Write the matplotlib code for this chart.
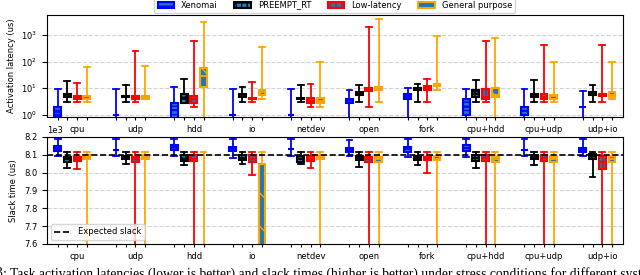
import matplotlib.pyplot as plt
from matplotlib.ticker import NullLocator

plt.rcParams['font.size'] = 6

# Stress scenarios and kernels
groups = ['cpu', 'udp', 'hdd', 'io', 'netdev', 'open', 'fork', 'cpu+hdd', 'cpu+udp', 'udp+io']
systems = ['Xenomai', 'PREEMPT_RT', 'Low-latency', 'General purpose']

# Activation latency (us): (whisker low, q1, median, q3, whisker high)
lat_xenomai = [(0.5, 0.92, 1.33, 1.94, 9.2), (0.5, 1.0, 1.0, 1.0, 9.2), (0.5, 0.7, 1.5, 2.9, 10.9),
               (0.5, 1.0, 1.0, 1.0, 9.2), (0.5, 1.0, 1.0, 1.0, 9.2), (0.5, 2.9, 3.65, 4.0, 8.2),
               (0.5, 4.0, 4.9, 6.0, 10.0), (0.5, 1.0, 2.05, 4.0, 9.2), (0.5, 1.0, 1.4, 1.94, 9.2),
               (0.5, 1.94, 1.94, 1.94, 7.9)]
lat_preempt = [(3.0, 4.6, 5.3, 6.0, 18.9), (3.0, 4.6, 5.0, 5.2, 13.3), (2.9, 2.9, 3.9, 6.1, 22.4),
               (3.0, 4.6, 5.3, 6.0, 11.5), (3.0, 3.9, 4.0, 4.2, 13.3), (3.0, 5.6, 6.5, 7.5, 13.3),
               (3.0, 8.7, 9.4, 10.0, 14.5), (3.0, 4.6, 6.1, 8.2, 20.5), (3.0, 4.6, 5.3, 6.1, 19.5),
               (3.0, 5.6, 6.5, 7.3, 13.3)]
lat_lowlat = [(3.0, 4.0, 4.5, 4.9, 16.3), (3.0, 4.0, 4.5, 4.9, 258), (1.9, 2.9, 3.9, 4.9, 612),
              (3.0, 3.9, 4.0, 4.2, 17.3), (1.9, 2.9, 3.35, 4.2, 14.5), (1.9, 7.9, 8.9, 10.0, 2048),
              (3.0, 8.7, 10.0, 11.9, 23), (3.0, 4.0, 4.7, 9.2, 594), (3.0, 4.0, 4.7, 6.0, 410),
              (3.0, 4.9, 5.5, 6.1, 410)]
lat_general = [(3.0, 3.9, 4.1, 4.9, 61), (3.9, 3.9, 4.3, 4.9, 68), (0.3, 10.9, 29, 58, 3162),
               (4.0, 5.6, 6.9, 8.2, 343), (1.9, 2.9, 3.4, 4.2, 100), (3.0, 8.7, 10.0, 10.9, 3981),
               (8.2, 11.9, 12.9, 14.0, 944), (0.3, 4.7, 5.8, 10.0, 747), (3.0, 4.0, 4.9, 5.8, 100),
               (3.9, 4.7, 5.8, 6.9, 100)]

# Slack time (us): (whisker low, q1, median, q3, whisker high)
slack_xenomai = [(8092, 8122, 8135, 8150, 8191), (8092, 8126, 8126, 8126, 8191), (8092, 8126, 8141, 8157, 8191),
                 (8083, 8122, 8133, 8144, 8191), (8092, 8131, 8131, 8131, 8191), (8092, 8116, 8128, 8139, 8185),
                 (8089, 8118, 8131, 8144, 8191), (8089, 8122, 8137, 8154, 8191), (8092, 8126, 8126, 8126, 8191),
                 (8092, 8118, 8129, 8139, 8191)]
slack_preempt = [(8027, 8061, 8074, 8089, 8118), (8046, 8079, 8085, 8092, 8118), (8042, 8066, 8079, 8096, 8118),
                 (8046, 8070, 8083, 8096, 8118), (8046, 8061, 8075, 8092, 8118), (8029, 8070, 8081, 8092, 8118),
                 (8042, 8070, 8081, 8092, 8118), (8027, 8066, 8081, 8096, 8118), (8042, 8074, 8085, 8100, 8118),
                 (7977, 8075, 8092, 8103, 8118)]
slack_lowlat = [(8023, 8066, 8077, 8089, 8118), (7000, 8061, 8074, 8089, 8118), (7000, 8066, 8079, 8096, 8118),
                (7986, 8061, 8077, 8096, 8118), (8027, 8066, 8079, 8092, 8118), (7000, 8061, 8074, 8089, 8118),
                (7996, 8070, 8079, 8089, 8118), (7000, 8066, 8081, 8100, 8118), (7000, 8066, 8081, 8096, 8118),
                (7000, 8023, 8061, 8092, 8118)]
slack_general = [(7000, 8079, 8088, 8100, 8118), (7000, 8077, 8085, 8096, 8118), (7000, 7300, 7400, 7500, 8118),
                 (7000, 7400, 7500, 8051, 8118), (7000, 8075, 8083, 8092, 8118), (7000, 8057, 8074, 8089, 8118),
                 (7000, 8070, 8079, 8092, 8118), (7000, 8057, 8074, 8089, 8118), (7000, 8057, 8074, 8089, 8118),
                 (7000, 8057, 8074, 8092, 8118)]

expected_slack = 8100

colors = ['blue', 'black', 'red', 'orange']
hatches = ['----', '+++', '|||', '\\']


def to_stats(rows):
    return [dict(whislo=r[0], q1=r[1], med=r[2], q3=r[3], whishi=r[4], fliers=[]) for r in rows]


fig = plt.figure(figsize=(6.4, 2.75), dpi=100)
ax1 = fig.add_axes([0.0734, 0.575, 0.8996, 0.370])
ax2 = fig.add_axes([0.0734, 0.113, 0.8996, 0.389])

handles = []
for ax, data in [(ax1, [lat_xenomai, lat_preempt, lat_lowlat, lat_general]),
                 (ax2, [slack_xenomai, slack_preempt, slack_lowlat, slack_general])]:
    for j, rows in enumerate(data):
        c = colors[j]
        pos = [6 * i + j for i in range(len(groups))]
        res = ax.bxp(to_stats(rows), positions=pos, widths=0.7, capwidths=0.6,
                     patch_artist=True, showfliers=False, manage_ticks=False,
                     boxprops=dict(edgecolor=c, facecolor='#1f77b4', linewidth=1.5),
                     whiskerprops=dict(color=c, linewidth=1.3),
                     capprops=dict(color=c, linewidth=1.3),
                     medianprops=dict(color=c, linewidth=1.3))
        for b in res['boxes']:
            b.set_hatch(hatches[j])
        if ax is ax1:
            handles.append(res['boxes'][0])

    all_pos = sorted(6 * i + j for i in range(len(groups)) for j in range(4))
    labels = [groups[p // 6] if p % 6 == 2 else '' for p in all_pos]
    ax.set_xticks(all_pos)
    ax.set_xticklabels(labels)
    ax.tick_params(axis='x', length=2.2)
    ax.set_xlim(-1.1, 58.1)
    ax.grid(axis='y', linestyle='--', color='lightgray', linewidth=0.8)
    ax.set_axisbelow(True)

ax1.set_yscale('log')
ax1.set_ylim(0.84, 5500)
ax1.yaxis.set_minor_locator(NullLocator())
ax1.set_ylabel('Activation latency (us)')

ax2.set_ylim(7600, 8200)
ax2.set_yticks([7600, 7700, 7800, 7900, 8000, 8100, 8200])
ax2.ticklabel_format(axis='y', style='sci', scilimits=(0, 0))
ax2.axhline(expected_slack, color='black', linestyle='--', linewidth=1.2, label='Expected slack')
ax2.set_ylabel('Slack time (us)')
ax2.legend(loc='lower left')

fig.legend(handles, systems, ncol=4, loc='lower center', bbox_to_anchor=(0.523, 0.953),
           borderaxespad=0)

# figure caption, cropped at the edges like in the source page
cap_x, cap_y = 3 / 640, -0.009
fig.text(cap_x, cap_y, 'Fig. 3', family='Liberation Serif', fontsize=9.8, ha='right', va='baseline')
fig.text(cap_x, cap_y, ': Task activation latencies (lower is better) and slack times (higher is better) '
         'under stress conditions for different systems.', family='Liberation Serif', fontsize=9.8,
         ha='left', va='baseline')

fig.savefig('out.png', dpi=100)
